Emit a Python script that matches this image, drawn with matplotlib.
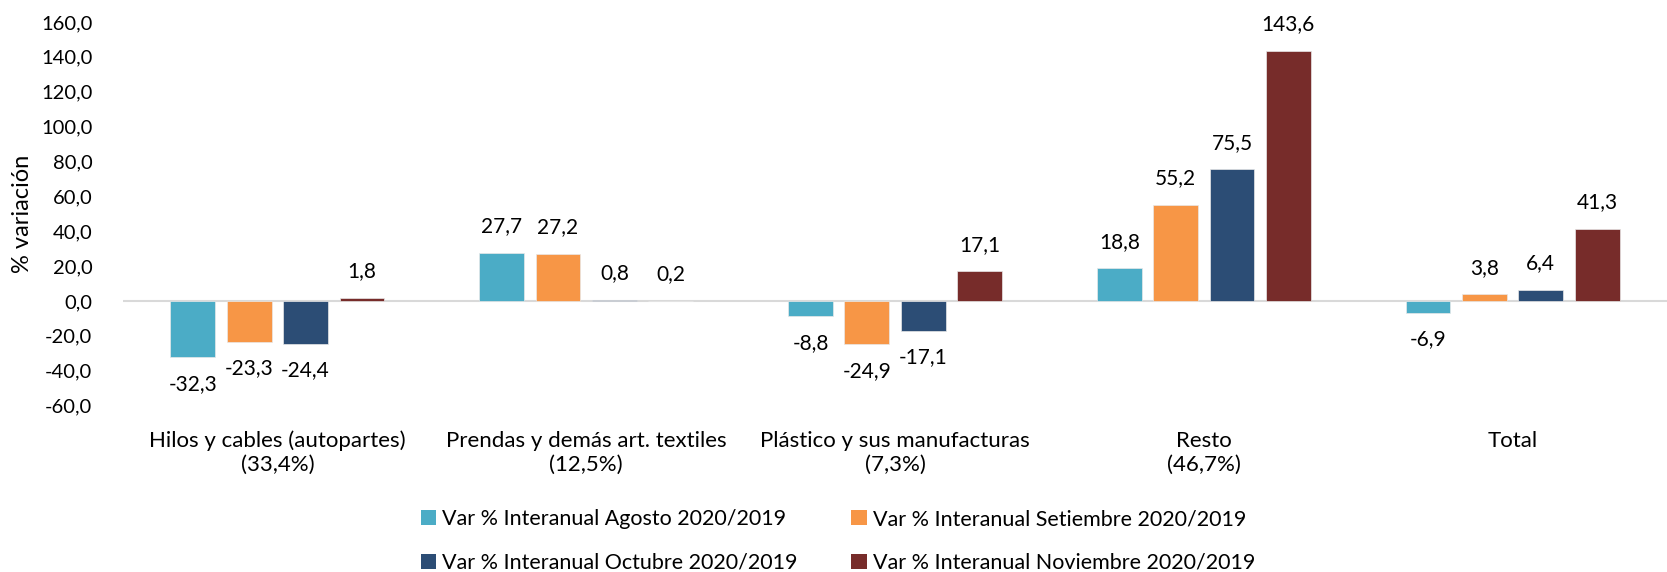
import matplotlib
matplotlib.use("Agg")
import matplotlib.pyplot as plt
import numpy as np
from matplotlib.patches import Patch

plt.rcParams['font.family'] = ['Lato', 'DejaVu Sans']

categories = ["Hilos y cables (autopartes)\n(33,4%)",
              "Prendas y demás art. textiles\n(12,5%)",
              "Plástico y sus manufacturas\n(7,3%)",
              "Resto\n(46,7%)",
              "Total"]
series_names = ["Var % Interanual Agosto 2020/2019",
                "Var % Interanual Setiembre 2020/2019",
                "Var % Interanual Octubre 2020/2019",
                "Var % Interanual Noviembre 2020/2019"]
agosto = [-32.3, 27.7, -8.8, 18.8, -6.9]
setiembre = [-23.3, 27.2, -24.9, 55.2, 3.8]
octubre = [-24.4, 0.8, -17.1, 75.5, 6.4]
noviembre = [1.8, 0.2, 17.1, 143.6, 41.3]
colors = ["#4BACC6", "#F79646", "#2C4D75", "#772C2A"]
yticks = [-60, -40, -20, 0, 20, 40, 60, 80, 100, 120, 140, 160]

W, H = 1667, 572
fig = plt.figure(figsize=(W / 100, H / 100), dpi=100)
ax = fig.add_axes([123 / W, 1 - 405.6 / H, (W - 123) / W, (405.6 - 22) / H])

series = [agosto, setiembre, octubre, noviembre]
x = np.arange(len(categories))
pitch = 0.1825
bw = 0.145
for i, (vals, col) in enumerate(zip(series, colors)):
    pos = x + (i - 1.5) * pitch
    ax.bar(pos, vals, width=bw, color=col, edgecolor='#e8e8e8', linewidth=0.5, zorder=2)
    for xx, v in zip(pos, vals):
        lbl = f"{v:.1f}".replace('.', ',')
        off = 19 if v >= 0 else -19
        ax.annotate(lbl, (xx, v), xytext=(0, off), textcoords='offset points',
                    ha='center', va='center', fontsize=15, color='black')

ax.axhline(0, color='#d9d9d9', linewidth=1.5, zorder=1)
ax.set_xlim(-0.5, len(categories) - 0.5)
ax.set_ylim(-60, 160)
ax.set_yticks(yticks)
ax.set_yticklabels([f"{t:.1f}".replace('.', ',') for t in yticks], fontsize=14.5)
ax.set_xticks(x)
ax.set_xticklabels(categories, fontsize=16, linespacing=1.25)
ax.tick_params(axis='both', length=0)
ax.tick_params(axis='y', pad=22)
ax.tick_params(axis='x', pad=18)
for s in ax.spines.values():
    s.set_visible(False)
ax.set_ylabel("% variación", fontsize=17)
ax.yaxis.set_label_coords(-0.058, 0.5)

order = [0, 2, 1, 3]
handles = [Patch(facecolor=colors[k], edgecolor='none') for k in order]
labels = [series_names[k] for k in order]
fig.legend(handles, labels, loc='center', bbox_to_anchor=(838 / W, 1 - 541 / H),
           ncol=2, frameon=False, fontsize=15.5, handlelength=0.7, handleheight=0.7,
           handletextpad=0.3, columnspacing=2.5, labelspacing=1.1)

fig.savefig("out.png", dpi=100)
